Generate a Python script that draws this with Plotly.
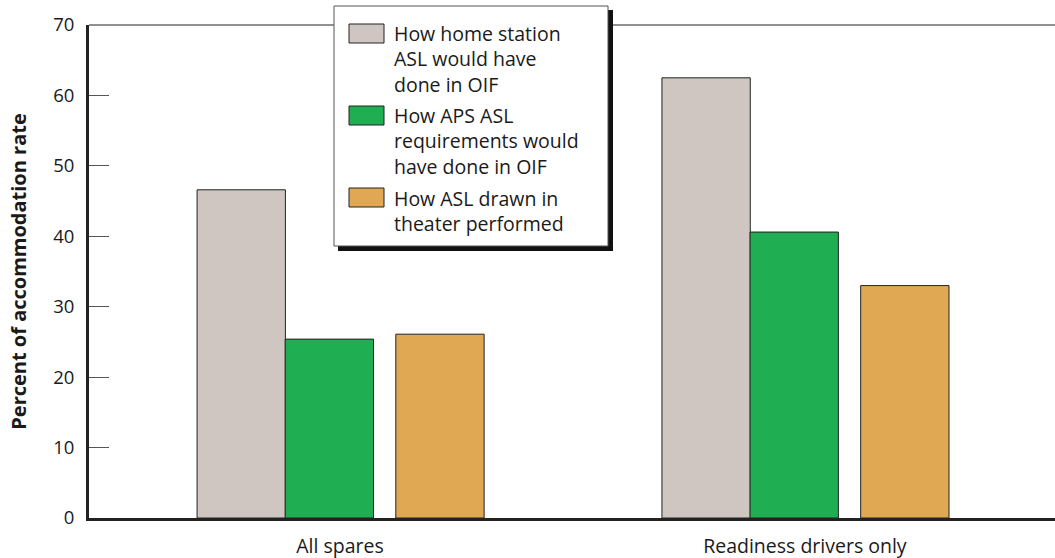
import plotly.graph_objects as go

categories = ["All spares", "Readiness drivers only"]
series_names = [
    "How home station<br>ASL would have<br>done in OIF",
    "How APS ASL<br>requirements would<br>have done in OIF",
    "How ASL drawn in<br>theater performed",
]
home_station = [46.6, 62.5]
aps_asl = [25.4, 40.6]
in_theater = [26.1, 33.0]
y_ticks = [0, 10, 20, 30, 40, 50, 60, 70]

colors = ["#D0C6C1", "#1FAE52", "#E0A852"]
offsets = [-0.3075, -0.118, 0.12]
bar_w = 0.19

# plot area in pixels: x 89..1055, y 25..518
L, R, T, B = 89, 1055, 25, 518


def px(x):
    return (x - L) / (R - L)


def py(y):
    return (B - y) / (B - T)


fig = go.Figure()
for name, vals, col, off in zip(series_names, [home_station, aps_asl, in_theater], colors, offsets):
    fig.add_trace(go.Bar(
        x=categories, y=vals, name=name.replace("<br>", " "), width=bar_w, offset=off,
        marker=dict(color=col, line=dict(color="#222222", width=1)),
        showlegend=False,
    ))

shapes = [
    # top frame line
    dict(type="line", xref="paper", yref="paper", x0=0, x1=1, y0=1, y1=1,
         line=dict(color="#222222", width=1)),
    # legend shadow + box
    dict(type="rect", xref="paper", yref="paper", x0=px(338), x1=px(613), y0=py(251), y1=py(10),
         fillcolor="#111111", line=dict(width=0), layer="above"),
    dict(type="rect", xref="paper", yref="paper", x0=px(334), x1=px(608), y0=py(246), y1=py(6),
         fillcolor="white", line=dict(color="#555555", width=1), layer="above"),
]
annotations = []
sw_top = [24, 106, 188]
for name, col, st in zip(series_names, colors, sw_top):
    shapes.append(dict(type="rect", xref="paper", yref="paper", x0=px(349), x1=px(384),
                       y0=py(st + 19), y1=py(st), fillcolor=col,
                       line=dict(color="#222222", width=1), layer="above"))
    n = len(name.split("<br>"))
    annotations.append(dict(xref="paper", yref="paper", x=px(392),
                            y=py(st + 10 + 25 * (n - 1) / 2),
                            text=name, showarrow=False, xanchor="left", yanchor="middle",
                            align="left", font=dict(size=19.5, color="#1a1a1a")))

fig.update_layout(
    width=1055, height=558,
    margin=dict(l=L, r=1055 - R, t=T, b=558 - B),
    paper_bgcolor="white", plot_bgcolor="white",
    barmode="overlay",
    font=dict(family="Open Sans, Noto Sans, sans-serif", color="#1a1a1a", size=18),
    shapes=shapes, annotations=annotations,
    xaxis=dict(range=[-0.54, 1.538], showline=True, linecolor="#222222", linewidth=3,
               ticks="", showgrid=False, zeroline=False, ticklabelstandoff=9,
               tickfont=dict(size=19.5)),
    yaxis=dict(range=[0, 70], tickvals=y_ticks, showline=True, linecolor="#222222", linewidth=3,
               ticks="inside", ticklen=20, tickwidth=1, tickcolor="#555555",
               showgrid=False, zeroline=False, ticklabelstandoff=8,
               tickfont=dict(size=18.5),
               title=dict(text="<b>Percent of accommodation rate</b>", font=dict(size=20), standoff=22)),
)

fig.write_html("out.html", config={"displayModeBar": False},
               post_script="document.body.style.margin='0';")
